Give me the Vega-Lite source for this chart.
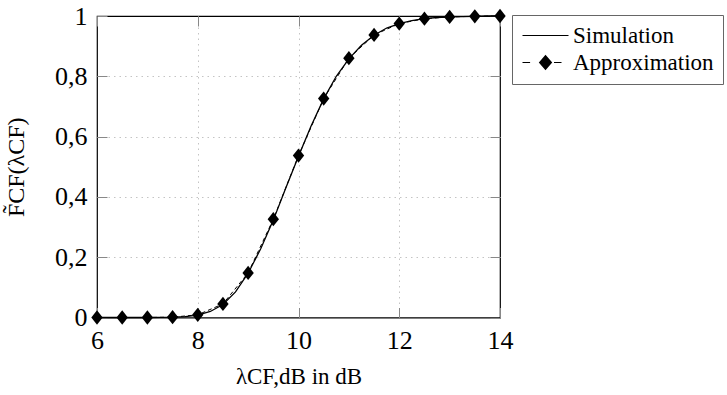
{
  "$schema": "https://vega.github.io/schema/vega-lite/v6.json",
  "width": 403,
  "height": 301.5,
  "autosize": {"type": "none"},
  "padding": {"left": 97, "top": 16, "right": 227, "bottom": 77.5},
  "background": "white",
  "config": {
    "view": {"stroke": "black", "strokeWidth": 1.2},
    "axis": {
      "labelColor": "black",
      "titleColor": "black",
      "titleFontWeight": "normal",
      "labelFlush": false,
      "domain": false
    },
    "legend": {
      "labelColor": "black"
    }
  },
  "datasets": {
    "sim": [
      {"x": 6, "y": 0}, {"x": 6.25, "y": 0}, {"x": 6.5, "y": 0}, {"x": 6.75, "y": 0},
      {"x": 7, "y": 0}, {"x": 7.25, "y": 0.0003}, {"x": 7.5, "y": 0.001}, {"x": 7.75, "y": 0.003},
      {"x": 8, "y": 0.008}, {"x": 8.25, "y": 0.02}, {"x": 8.5, "y": 0.043}, {"x": 8.75, "y": 0.085},
      {"x": 9, "y": 0.147}, {"x": 9.25, "y": 0.228}, {"x": 9.5, "y": 0.323}, {"x": 9.75, "y": 0.43},
      {"x": 10, "y": 0.535}, {"x": 10.25, "y": 0.635}, {"x": 10.5, "y": 0.725}, {"x": 10.75, "y": 0.8},
      {"x": 11, "y": 0.858}, {"x": 11.25, "y": 0.903}, {"x": 11.5, "y": 0.936}, {"x": 11.75, "y": 0.96},
      {"x": 12, "y": 0.975}, {"x": 12.25, "y": 0.985}, {"x": 12.5, "y": 0.991}, {"x": 12.75, "y": 0.995},
      {"x": 13, "y": 0.997}, {"x": 13.25, "y": 0.998}, {"x": 13.5, "y": 0.999}, {"x": 13.75, "y": 1.0},
      {"x": 14, "y": 1.0}
    ],
    "approx": [
      {"x": 6, "y": 0, "series": "Approximation"}, {"x": 6.5, "y": 0, "series": "Approximation"},
      {"x": 7, "y": 0, "series": "Approximation"}, {"x": 7.5, "y": 0.001, "series": "Approximation"},
      {"x": 8, "y": 0.009, "series": "Approximation"}, {"x": 8.5, "y": 0.045, "series": "Approximation"},
      {"x": 9, "y": 0.148, "series": "Approximation"}, {"x": 9.5, "y": 0.326, "series": "Approximation"},
      {"x": 10, "y": 0.537, "series": "Approximation"}, {"x": 10.5, "y": 0.726, "series": "Approximation"},
      {"x": 11, "y": 0.86, "series": "Approximation"}, {"x": 11.5, "y": 0.937, "series": "Approximation"},
      {"x": 12, "y": 0.975, "series": "Approximation"}, {"x": 12.5, "y": 0.991, "series": "Approximation"},
      {"x": 13, "y": 0.997, "series": "Approximation"}, {"x": 13.5, "y": 0.999, "series": "Approximation"},
      {"x": 14, "y": 1.0, "series": "Approximation"}
    ]
  },
  "layer": [
    {
      "data": {"name": "sim"},
      "mark": {"type": "line", "color": "black", "strokeWidth": 1.3, "clip": false},
      "encoding": {
        "x": {
          "field": "x", "type": "quantitative",
          "scale": {"domain": [6, 14], "nice": false, "zero": false},
          "axis": {
            "orient": "bottom",
            "values": [6, 8, 10, 12, 14],
            "labelFont": "Liberation Serif",
            "labelFontSize": 26,
            "labelPadding": 20,
            "labelFlush": false,
            "tickSize": -10,
            "tickColor": "#888888",
            "tickWidth": 1,
            "grid": true,
            "gridColor": "#c4c4c4",
            "gridDash": [1.5, 4],
            "gridWidth": 1,
            "gridOpacity": {"condition": {"test": "datum.value <= 6 || datum.value >= 14", "value": 0}, "value": 1},
            "title": "λCF,dB in dB",
            "titleFont": "Liberation Serif",
            "titleFontSize": 23,
            "titlePadding": 12
          }
        },
        "y": {
          "field": "y", "type": "quantitative",
          "scale": {"domain": [0, 1], "nice": false, "zero": false},
          "axis": {
            "orient": "left",
            "values": [0, 0.2, 0.4, 0.6, 0.8, 1],
            "format": "~g",
            "labelExpr": "replace(datum.label, '.', ',')",
            "labelFont": "Liberation Serif",
            "labelFontSize": 26,
            "labelPadding": 20,
            "labelFlush": false,
            "tickSize": -10,
            "tickColor": "#888888",
            "tickWidth": 1,
            "grid": true,
            "gridColor": "#c4c4c4",
            "gridDash": [1.5, 4],
            "gridWidth": 1,
            "gridOpacity": {"condition": {"test": "datum.value <= 0 || datum.value >= 1", "value": 0}, "value": 1},
            "title": "F̃CF(λCF)",
            "titleFont": "Liberation Serif",
            "titleFontSize": 24,
            "titlePadding": 26
          }
        }
      }
    },
    {
      "data": {"name": "approx"},
      "mark": {"type": "line", "color": "black", "strokeWidth": 1, "strokeDash": [4, 3], "clip": false},
      "encoding": {
        "x": {"field": "x", "type": "quantitative", "axis": null},
        "y": {"field": "y", "type": "quantitative", "axis": null}
      }
    },
    {
      "data": {"name": "approx"},
      "mark": {
        "type": "point",
        "shape": "M0,-1.25L1,0L0,1.25L-1,0Z",
        "filled": true,
        "color": "black",
        "opacity": 1,
        "size": 130,
        "clip": false
      },
      "encoding": {
        "x": {
          "field": "x", "type": "quantitative",
          "axis": {
            "orient": "top",
            "values": [6, 8, 10, 12, 14],
            "labels": false,
            "title": null,
            "grid": false,
            "tickSize": -10,
            "tickColor": "#888888",
            "tickWidth": 1
          }
        },
        "y": {
          "field": "y", "type": "quantitative",
          "axis": {
            "orient": "right",
            "values": [0, 0.2, 0.4, 0.6, 0.8, 1],
            "labels": false,
            "title": null,
            "grid": false,
            "tickSize": -10,
            "tickColor": "#888888",
            "tickWidth": 1
          }
        }
      }
    },
    {
      "data": {"name": "approx"},
      "transform": [{"filter": "false"}],
      "mark": {"type": "point", "filled": false, "color": "black", "strokeWidth": 1.1, "opacity": 1},
      "encoding": {
        "x": {"field": "x", "type": "quantitative", "axis": null},
        "y": {"field": "y", "type": "quantitative", "axis": null},
        "shape": {
          "field": "series", "type": "nominal",
          "scale": {
            "domain": ["Simulation", "Approximation"],
            "range": [
              "M-1,0L3.6,0",
              "M-1,0L-0.24,0M0.7,0L1.3,-0.7L1.9,0L1.3,0.7ZM1.214,-0.6L1.386,-0.6M1.129,-0.5L1.471,-0.5M1.043,-0.4L1.557,-0.4M0.957,-0.3L1.643,-0.3M0.871,-0.2L1.729,-0.2M0.786,-0.1L1.814,-0.1M0.7,0L1.9,0M0.786,0.1L1.814,0.1M0.871,0.2L1.729,0.2M0.957,0.3L1.643,0.3M1.043,0.4L1.557,0.4M1.129,0.5L1.471,0.5M1.214,0.6L1.386,0.6M2.15,0L2.9,0"
            ]
          },
          "legend": {
            "orient": "none",
            "legendX": 415,
            "legendY": -1,
            "title": null,
            "symbolSize": 400,
            "symbolStrokeWidth": 1.1,
            "symbolOpacity": 1,
            "labelFont": "Liberation Serif",
            "labelFontSize": 23,
            "labelOffset": 29,
            "rowPadding": 3,
            "padding": 9,
            "strokeColor": "#666666",
            "fillColor": "white"
          }
        }
      }
    }
  ],
  "resolve": {"axis": {"x": "independent", "y": "independent"}}
}
